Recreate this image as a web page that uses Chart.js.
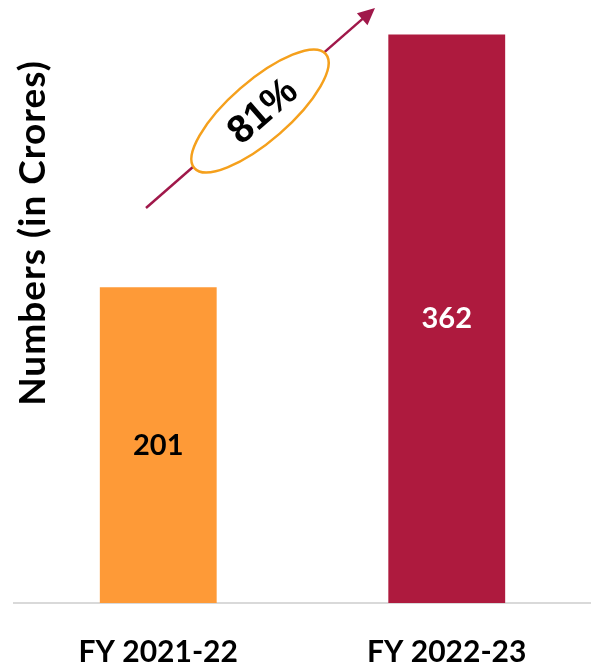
<!DOCTYPE html>
<html>
<head>
<meta charset="utf-8">
<script src="https://cdn.jsdelivr.net/npm/chart.js@4.4.1/dist/chart.umd.min.js"></script>
<style>
  html, body { margin: 0; padding: 0; background: #fff; }
  #wrap { width: 591px; height: 667px; }
</style>
</head>
<body>
<div id="wrap"><canvas id="growth"></canvas></div>
<script>
let years = ['FY 2021-22', 'FY 2022-23']
let revenue = [201, 362]
let barColors = ['#FE9A37', '#AE1A3E']
let labelColors = ['#000000', '#FFFFFF']
let growthText = '81%'
let yTitle = 'Numbers (in Crores)'

// numbers inside the bars
let barLabels = {
    id: 'barLabels',
    afterDatasetsDraw(chart) {
        let ctx = chart.ctx
        let meta = chart.getDatasetMeta(0)
        ctx.save()
        ctx.font = 'bold 29px Lato'
        ctx.textAlign = 'center'
        ctx.textBaseline = 'middle'
        meta.data.forEach((bar, i) => {
            ctx.fillStyle = labelColors[i]
            ctx.fillText(revenue[i], bar.x, (bar.y + bar.base) / 2)
        })
        ctx.restore()
    }
}

// rotated axis title, sits over the left edge of the plot
let sideTitle = {
    id: 'sideTitle',
    afterDraw(chart) {
        let ctx = chart.ctx
        ctx.save()
        ctx.translate(33, 233)
        ctx.rotate(-Math.PI / 2)
        ctx.font = 'bold 37px Lato'
        ctx.letterSpacing = '1px'
        ctx.fillStyle = '#000'
        ctx.textAlign = 'center'
        ctx.textBaseline = 'middle'
        ctx.fillText(yTitle, 0, 0)
        ctx.restore()
    }
}

// growth arrow with the ellipse badge
let growthArrow = {
    id: 'growthArrow',
    afterDraw(chart) {
        let ctx = chart.ctx
        let x0 = 146, y0 = 208, x1 = 375, y1 = 8
        let ang = Math.atan2(y1 - y0, x1 - x0)
        ctx.save()
        ctx.strokeStyle = '#A0184A'
        ctx.fillStyle = '#A0184A'
        ctx.lineWidth = 2.5
        ctx.beginPath()
        ctx.moveTo(x0, y0)
        ctx.lineTo(x1 - 12 * Math.cos(ang), y1 - 12 * Math.sin(ang))
        ctx.stroke()
        ctx.translate(x1, y1)
        ctx.rotate(ang)
        ctx.beginPath()
        ctx.moveTo(0, 0)
        ctx.lineTo(-17, -8)
        ctx.lineTo(-17, 8)
        ctx.closePath()
        ctx.fill()
        ctx.restore()

        ctx.save()
        ctx.translate(260, 111)
        ctx.rotate(-41 * Math.PI / 180)
        ctx.beginPath()
        ctx.ellipse(0, 0, 87, 30, 0, 0, Math.PI * 2)
        ctx.fillStyle = '#fff'
        ctx.fill()
        ctx.strokeStyle = '#F5A01C'
        ctx.lineWidth = 2.5
        ctx.stroke()
        ctx.font = 'bold 39px "Liberation Sans"'
        ctx.fillStyle = '#000'
        ctx.textAlign = 'center'
        ctx.textBaseline = 'middle'
        ctx.fillText(growthText, 2, 3)
        ctx.restore()
    }
}

new Chart(document.getElementById('growth'), {
    type: 'bar',
    data: {
        labels: years,
        datasets: [{
            data: revenue,
            backgroundColor: barColors,
            barPercentage: 0.405,
            categoryPercentage: 1
        }]
    },
    options: {
        responsive: true,
        maintainAspectRatio: false,
        animation: false,
        layout: {
            padding: { left: 14, right: 0, top: 0, bottom: -34 }
        },
        scales: {
            x: {
                grid: { display: false, drawTicks: false },
                border: { display: true, color: '#D9D9D9', width: 2 },
                ticks: {
                    color: '#000',
                    padding: 31,
                    font: { family: 'Lato', size: 30, weight: 'bold' }
                }
            },
            y: {
                display: false,
                beginAtZero: true,
                max: 384
            }
        },
        plugins: {
            legend: { display: false },
            tooltip: { enabled: false }
        }
    },
    plugins: [barLabels, sideTitle, growthArrow]
})
</script>
</body>
</html>
